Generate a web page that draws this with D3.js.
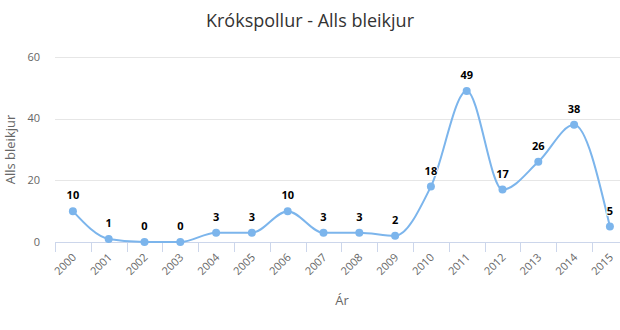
<!DOCTYPE html>
<html>
<head>
<meta charset="utf-8">
<script src="https://cdn.jsdelivr.net/npm/d3@7"></script>
<style>
  body { margin: 0; background: #fff; overflow: hidden; }
  svg { display: block; }
  text { font-family: "Open Sans", "DejaVu Sans", sans-serif; }
</style>
</head>
<body>
<div id="chart"></div>
<script>
// chart data
const years = ["2000", "2001", "2002", "2003", "2004", "2005", "2006", "2007",
               "2008", "2009", "2010", "2011", "2012", "2013", "2014", "2015"];
const counts = [10, 1, 0, 0, 3, 3, 10, 3, 3, 2, 18, 49, 17, 26, 38, 5];
const yTicks = [0, 20, 40, 60];

const width = 620, height = 330;
const plotLeft = 55, plotTop = 57, plotBottom = 242;
const step = 35.8;

const svg = d3.select("#chart")
    .append("svg")
    .attr("width", width)
    .attr("height", height);

// title
svg.append("text")
    .text("Krókspollur - Alls bleikjur")
    .attr("x", 310)
    .attr("y", 27)
    .attr("text-anchor", "middle")
    .attr("font-size", 18)
    .attr("fill", "#333");

const xScale = d3.scaleBand()
    .domain(years)
    .range([plotLeft, plotLeft + step * years.length]);

const yScale = d3.scaleLinear()
    .domain([0, 60])
    .range([plotBottom, plotTop]);

// horizontal grid lines
svg.selectAll(".grid")
    .data(yTicks.filter(d => d > 0))
    .join("line")
    .attr("x1", plotLeft)
    .attr("x2", width)
    .attr("y1", d => Math.round(yScale(d)) + 0.5)
    .attr("y2", d => Math.round(yScale(d)) + 0.5)
    .attr("stroke", "#e6e6e6");

// y tick labels
svg.selectAll(".ylab")
    .data(yTicks)
    .join("text")
    .attr("x", plotLeft - 15)
    .attr("y", d => yScale(d))
    .attr("dy", "0.32em")
    .attr("text-anchor", "end")
    .attr("font-size", 11)
    .attr("fill", "#666")
    .text(d => d);

// x axis line and ticks
svg.append("line")
    .attr("x1", plotLeft)
    .attr("x2", width)
    .attr("y1", plotBottom + 0.5)
    .attr("y2", plotBottom + 0.5)
    .attr("stroke", "#ccd6eb");

svg.selectAll(".xtick")
    .data(years)
    .join("line")
    .attr("x1", d => Math.round(xScale(d)) + 0.5)
    .attr("x2", d => Math.round(xScale(d)) + 0.5)
    .attr("y1", plotBottom)
    .attr("y2", plotBottom + 10)
    .attr("stroke", "#ccd6eb");

// rotated year labels
svg.selectAll(".xlab")
    .data(years)
    .join("text")
    .attr("transform", d => `translate(${xScale(d) + xScale.bandwidth() / 2 + 4},${plotBottom + 16}) rotate(-45)`)
    .attr("text-anchor", "end")
    .attr("font-size", 11)
    .attr("fill", "#666")
    .text(d => d);

// axis titles
svg.append("text")
    .text("Ár")
    .attr("x", 342)
    .attr("y", 305)
    .attr("text-anchor", "middle")
    .attr("font-size", 13)
    .attr("fill", "#666");

svg.append("text")
    .text("Alls bleikjur")
    .attr("transform", `translate(15,${(plotTop + plotBottom) / 2}) rotate(-90)`)
    .attr("text-anchor", "middle")
    .attr("font-size", 13)
    .attr("fill", "#666");

// the series
const cx = (d, i) => xScale(years[i]) + xScale.bandwidth() / 2;
const line = d3.line()
    .x(cx)
    .y(d => yScale(d))
    .curve(d3.curveMonotoneX);

svg.append("path")
    .datum(counts)
    .attr("d", line)
    .attr("fill", "none")
    .attr("stroke", "#7cb5ec")
    .attr("stroke-width", 2);

svg.selectAll(".dot")
    .data(counts)
    .join("circle")
    .attr("cx", cx)
    .attr("cy", d => yScale(d))
    .attr("r", 4)
    .attr("fill", "#7cb5ec");

svg.selectAll(".val")
    .data(counts)
    .join("text")
    .attr("x", cx)
    .attr("y", d => yScale(d) - 12)
    .attr("text-anchor", "middle")
    .attr("font-size", 11)
    .attr("font-weight", "bold")
    .attr("fill", "#000")
    .attr("stroke", "#fff")
    .attr("stroke-width", 2)
    .attr("paint-order", "stroke")
    .text(d => d);
</script>
</body>
</html>
